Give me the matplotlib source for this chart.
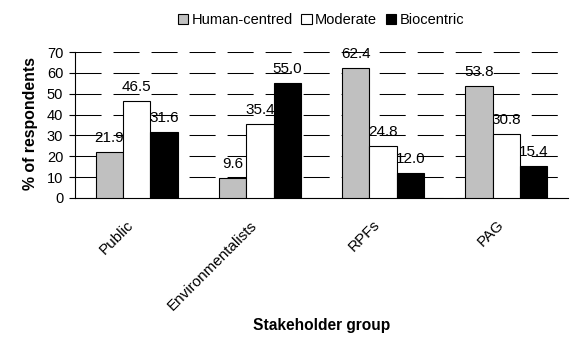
import matplotlib
matplotlib.use("Agg")
import matplotlib.pyplot as plt
import numpy as np

plt.rcParams['font.family'] = ['Liberation Sans', 'DejaVu Sans']

groups = ['Public', 'Environmentalists', 'RPFs', 'PAG']
series = ['Human-centred', 'Moderate', 'Biocentric']
human = [21.9, 9.6, 62.4, 53.8]
moderate = [46.5, 35.4, 24.8, 30.8]
biocentric = [31.6, 55.0, 12.0, 15.4]
colors = ['#c0c0c0', 'white', 'black']

fig = plt.figure(figsize=(5.82, 3.54), dpi=100)
ax = fig.add_axes([75/582, 1-198/354, 493/582, 146/354])

x = np.arange(len(groups))
w = 0.222
vals = [human, moderate, biocentric]
for k, (name, v, c) in enumerate(zip(series, vals, colors)):
    pos = x + (k - 1) * w
    ax.bar(pos, v, w, color=c, edgecolor='black', linewidth=0.8, label=name, zorder=3)
    for xp, val in zip(pos, v):
        ax.annotate('%.1f' % val, (xp, val), xytext=(0, 5), textcoords='offset points',
                    ha='center', va='bottom', fontsize=11, zorder=1)

ax.set_xlim(-0.5, 3.5)
ax.set_ylim(0, 70)
ax.set_yticks(range(0, 71, 10))
ax.yaxis.grid(True, color='black', linewidth=0.75, linestyle=(0, (25, 11.5)))
ax.set_axisbelow(False)
for s in ['top', 'right']:
    ax.spines[s].set_visible(False)
ax.spines['left'].set_linewidth(0.8)
ax.spines['bottom'].set_linewidth(0.8)
ax.tick_params(axis='y', length=4, width=0.8, pad=4.5, labelsize=10.5)

for i, g in enumerate(groups):
    ax.text(x[i] - 0.04, -0.17, g, transform=ax.get_xaxis_transform(),
            rotation=45, ha='right', va='center', rotation_mode='anchor', fontsize=11)
ax.set_xticks([])
ax.set_ylabel('% of respondents', fontsize=11.4, fontweight='bold')
ax.yaxis.set_label_coords(-0.075, 0.51)
ax.set_xlabel('Stakeholder group', fontsize=11.2, fontweight='bold')
ax.xaxis.set_label_coords(0.5, -0.82)

fig.legend(loc='center', bbox_to_anchor=(321/582, 1-20/354), ncol=3, frameon=False,
           fontsize=10.5, handlelength=0.7, handleheight=0.7, handletextpad=0.25,
           columnspacing=0.6, borderaxespad=0)

fig.savefig('out.png', dpi=100)
